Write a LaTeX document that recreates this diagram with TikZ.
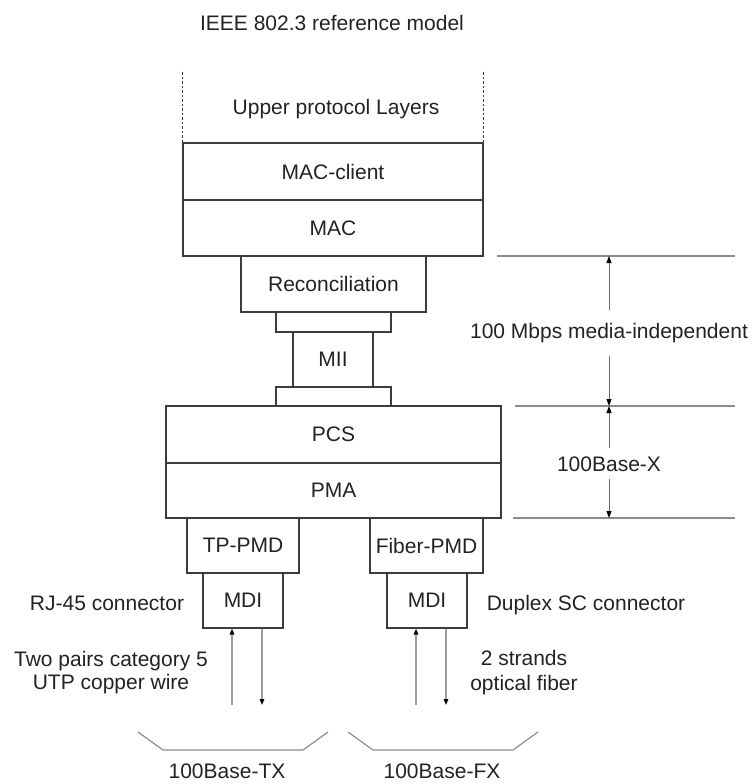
\documentclass[tikz,border=0pt]{standalone}
\usepackage{fontspec}
\setmainfont{Liberation Sans}
\usepackage{xcolor}
\usepackage{tikz}
\usetikzlibrary{positioning, arrows.meta}
\definecolor{bInk}{HTML}{3C3C3C}
\definecolor{gInk}{HTML}{8C8C8C}
\definecolor{tInk}{HTML}{222222}

\begin{document}
\begin{tikzpicture}[x=1pt, y=-1pt,
    every node/.style={font=\fontsize{21}{23}\selectfont, text=tInk},
    layer/.style={draw=bInk, line width=1.2pt, inner sep=0pt},
    guide/.style={draw=gInk, line width=1.2pt},
    wire/.style={draw=gInk!85, line width=1.4pt, -{Triangle[black,length=6pt,width=4.5pt]}},
    dimarr/.style={draw=bInk!75, line width=1pt, -{Triangle[black,length=7pt,width=5pt]}}]
      \useasboundingbox (0,0) rectangle (755,784);
      \foreach \n/\x/\y/\w/\h/\t in {
          macc/333/171.5/300/57/MAC-client,
          mac/333/228/300/56/MAC,
          recon/333.5/284/185/56/Reconciliation,
          miia/333.5/322/115/20/{},
          mii/333/359.5/80/55/MII,
          miib/333.5/396.5/115/19/{},
          pcs/333.5/434.5/335/57/PCS,
          pma/333.5/490.5/335/55/PMA,
          tppmd/243/545.5/112/55/TP-PMD,
          mdia/243/600.5/80/55/MDI,
          fbpmd/426.5/545.5/113/55/Fiber-PMD,
          mdib/427/600.5/80/55/MDI} {
        \node[layer, minimum width=\w, minimum height=\h] (\n) at (\x,\y) {\t};
      }
      \draw[bInk, line width=1.2pt, dash pattern=on 2.5pt off 2pt] (macc.north west) -- ++(0,-72);
      \draw[bInk, line width=1.2pt, dash pattern=on 2.5pt off 2pt] (macc.north east) -- ++(0,-72);

      \node[anchor=base] (title) at (332,31) {IEEE 802.3 reference model};
      \node[anchor=base] (upper) at (336,114) {Upper protocol Layers};
      \node[anchor=base] (rj) at (107,610) {RJ-45 connector};
      \node[anchor=base] (dsc) at (586,610) {Duplex SC connector};
      \node[anchor=north, align=center] (utp) at (111,647.7) {Two pairs category 5\\UTP copper wire};
      \node[anchor=north, align=center, font=\fontsize{21}{25}\selectfont] (fib) at (524,646.7) {2 strands\\optical fiber};

      % media-independent and 100Base-X spans
      \foreach \a/\b/\y in {ra/rb/256, rc/rd/406, re/rf/518} {
        \coordinate (\a) at (515,\y);
        \coordinate (\b) at (735,\y);
      }
      \coordinate (ra) at (497,256);
      \coordinate (re) at (513,518);
      \foreach \a/\b in {ra/rb, rc/rd, re/rf}
        \draw[guide] (\a) -- (\b);
      \coordinate (da) at (609,256);
      \coordinate (db) at (609,406);
      \coordinate (dc) at (609,518);
      \node[anchor=base, inner ysep=13pt] (mbps) at (609,338) {100 Mbps media-independent};
      \node[anchor=base, inner ysep=8pt] (basex) at (609,471) {100Base-X};
      \draw[dimarr] (mbps) -- (da);
      \draw[dimarr] (mbps) -- (db);
      \draw[dimarr] (basex) -- (db);
      \draw[dimarr] (basex) -- (dc);

      % cables
      \coordinate (wa) at (232,705);
      \coordinate (wb) at (262,705);
      \coordinate (wc) at (416,705);
      \coordinate (wd) at (446,705);
      \draw[wire] (wa) -- (wa |- mdia.south);
      \draw[wire] (wb |- mdia.south) -- (wb);
      \draw[wire] (wc) -- (wc |- mdib.south);
      \draw[wire] (wd |- mdib.south) -- (wd);

      \draw[guide] (138,732) -- (163,750) -- (303,750) -- (328,732);
      \draw[guide] (348,732) -- (373,750) -- (513,750) -- (538,732);
      \node[anchor=base] (tx) at (227,778) {100Base-TX};
      \node[anchor=base] (fx) at (442,778) {100Base-FX};
    \end{tikzpicture}
\end{document}
